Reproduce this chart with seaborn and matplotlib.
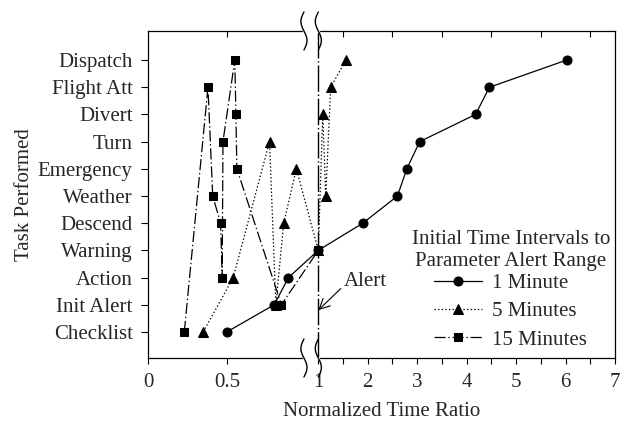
import numpy as np
import pandas as pd
import seaborn as sns
import matplotlib
matplotlib.use("Agg")
import matplotlib.pyplot as plt

tasks = ["Checklist", "Init Alert", "Action", "Warning", "Descend", "Weather",
         "Emergency", "Turn", "Divert", "Flight Att", "Dispatch"]

# normalized time ratio at which each task was performed (same order as tasks)
one_minute = [0.50, 0.80, 0.89, 1.00, 1.90, 2.60, 2.79, 3.05, 4.18, 4.46, 6.02]
five_minutes = [0.35, 0.81, 0.54, 1.00, 0.86, 1.15, 0.94, 0.77, 1.09, 1.25, 1.56]
fifteen_minutes = [0.23, 0.845, 0.47, 1.00, 0.46, 0.41, 0.563, 0.475, 0.557, 0.38, 0.55]

series_names = ["1 Minute", "5 Minutes", "15 Minutes"]
x_labels = ["0", "0.5", "1", "2", "3", "4", "5", "6", "7"]
x_label_pos = [0, 0.5, 1, 2, 3, 4, 5, 6, 7]
alert_at = 1.0

rows = []
for name, vals in zip(series_names, [one_minute, five_minutes, fifteen_minutes]):
    for i, v in enumerate(vals):
        rows.append({"series": name, "ratio": v, "task": i})
df = pd.DataFrame(rows)

sns.set_style("ticks")
plt.rcParams["font.family"] = ["Liberation Serif", "DejaVu Serif"]
plt.rcParams["lines.scale_dashes"] = False


# broken axis: 0-1 stretched, then 1-7 compressed, with a small gap at 1
def fwd(v):
    v = np.asarray(v, dtype=float)
    return np.where(v < 1, v * 158.0, 170.5 + 49.5 * (v - 1))


def inv(p):
    p = np.asarray(p, dtype=float)
    return np.where(p < 158.0, p / 158.0,
                    np.where(p < 170.5, 1.0, 1 + (p - 170.5) / 49.5))


fig = plt.figure(figsize=(6.24, 4.23), dpi=100)
ax = fig.add_axes([148 / 624, 1 - 358 / 423, 467 / 624, 327 / 423])
ax.set_xscale("function", functions=(fwd, inv))

styles = {
    "1 Minute": dict(marker="o", linestyle="-", markersize=6.5),
    "5 Minutes": dict(marker="^", linestyle=(0, (1, 1.6)), markersize=7),
    "15 Minutes": dict(marker="s", linestyle=(0, (8, 2, 1, 2)), markersize=6),
}
for name in series_names:
    sub = df[df["series"] == name]
    sns.lineplot(data=sub, x="ratio", y="task", estimator=None, sort=True,
                 color="black", markeredgecolor="black", linewidth=0.9,
                 label=name, ax=ax, **styles[name])

ax.axvline(alert_at, color="black", lw=1.0, ls=(0, (19, 2, 1, 2)), zorder=1)

ax.set_xlim(0, 7)
ax.set_ylim(-0.96, 11.07)
ax.set_yticks(range(len(tasks)))
ax.set_yticklabels(tasks, fontsize=15)
ax.set_xticks(x_label_pos)
ax.set_xticklabels(x_labels, fontsize=15)
ax.set_xticks([1.5, 2.5, 3.5, 4.5, 5.5, 6.5], minor=True)
ax.tick_params(axis="x", which="both", direction="out", length=4, width=0.8,
               top=False, pad=7, color="black")
ax.tick_params(axis="y", direction="out", length=5, width=0.8, right=False,
               pad=6, color="black")
for s in ax.spines.values():
    s.set_color("black")
    s.set_linewidth(0.9)

ax.set_xlabel("Normalized Time Ratio", fontsize=15, labelpad=7)
ax.set_ylabel("Task Performed", fontsize=15, labelpad=3)

# top ticks (inward)
ax2 = ax.twiny()
ax2.set_xscale("function", functions=(fwd, inv))
ax2.set_xlim(ax.get_xlim())
ax2.set_xticks([0.5, 1.5, 2.5, 3.5, 4.5, 5.5, 6.5])
ax2.set_xticks([], minor=True)
ax2.tick_params(axis="x", direction="in", length=4, width=0.8, labeltop=False,
                color="black")
for s in ax2.spines.values():
    s.set_visible(False)

# break marks
W = float(fwd(7.0))
b1 = float(fwd(0.9999)) / W - 0.004
b2 = float(fwd(1.0)) / W
t = np.linspace(0, 1, 60)
for yc in (0.0, 1.0):
    ax.plot([b1, b2], [yc, yc], color="white", lw=2.5, transform=ax.transAxes,
            clip_on=False, zorder=5)
    for bx in (b1, b2):
        ax.plot(bx - 0.0065 * np.sin(2 * np.pi * t), yc + 0.058 - 0.116 * t,
                color="black", lw=1.0, transform=ax.transAxes, clip_on=False,
                zorder=6)

ax.annotate("Alert", xy=(alert_at, 0.8), xytext=(1.52, 1.85), ha="left",
            va="center", fontsize=15,
            arrowprops=dict(arrowstyle="->,head_length=0.5,head_width=0.25",
                            color="black", lw=0.8, relpos=(0, 0.3),
                            shrinkA=0, shrinkB=0))

leg = ax.legend(title="Initial Time Intervals to\nParameter Alert Range",
                frameon=False, loc="lower right", bbox_to_anchor=(1.007, 0.0),
                borderaxespad=0, handlelength=2.3, handletextpad=0.5,
                labelspacing=0.42, fontsize=15, title_fontsize=15)
leg.get_title().set_multialignment("center")
# tighter gap between the title and the entries
leg._legend_box.sep = 2.0

fig.savefig("out.png", dpi=100)
